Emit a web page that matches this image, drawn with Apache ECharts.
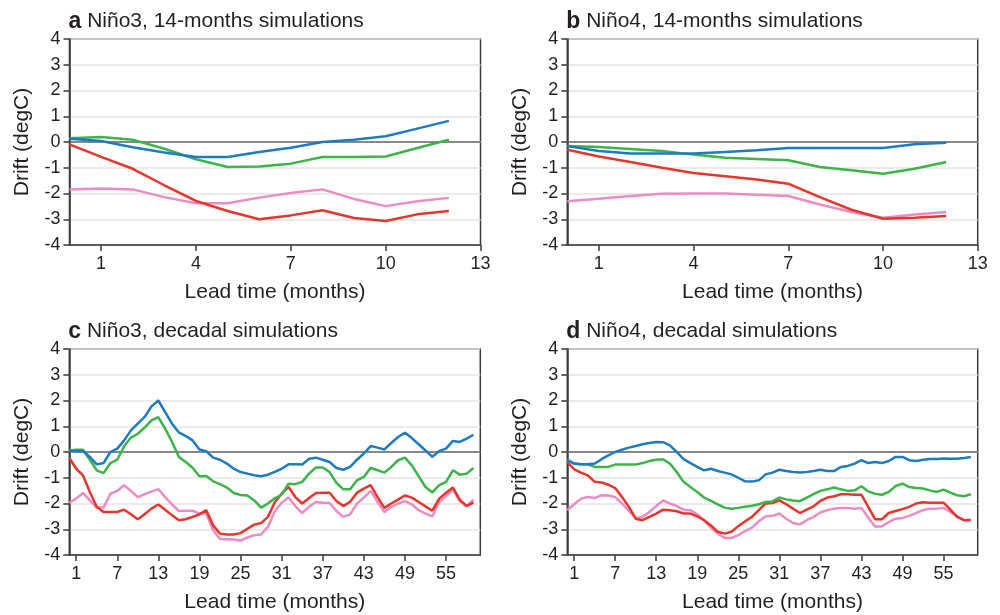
<!DOCTYPE html>
<html>
<head>
<meta charset="utf-8">
<script src="https://cdn.jsdelivr.net/npm/echarts@6/dist/echarts.min.js"></script>
<style>
html,body{margin:0;padding:0;background:#fff;}
#chart{width:1000px;height:615px;}
</style>
</head>
<body>
<div id="chart"></div>
<script>
// ---- data ----
const months14 = [0,1,2,3,4,5,6,7,8,9,10,11,12];
const monthsDec = [0,1,2,3,4,5,6,7,8,9,10,11,12,13,14,15,16,17,18,19,20,21,22,23,24,25,26,27,28,29,
  30,31,32,33,34,35,36,37,38,39,40,41,42,43,44,45,46,47,48,49,50,51,52,53,54,55,56,57,58,59];
const ticks14 = [1,4,7,10,13];
const ticksDec = [1,7,13,19,25,31,37,43,49,55];

const titles = [
  {tag:'a', text:'Niño3, 14-months simulations'},
  {tag:'b', text:'Niño4, 14-months simulations'},
  {tag:'c', text:'Niño3, decadal simulations'},
  {tag:'d', text:'Niño4, decadal simulations'}
];

const aBlue  = [0.13,0.04,-0.2,-0.41,-0.58,-0.58,-0.39,-0.22,0.0,0.09,0.22,0.52,0.82];
const aGreen = [0.15,0.19,0.09,-0.26,-0.67,-0.97,-0.95,-0.84,-0.58,-0.58,-0.56,-0.23,0.09];
const aRed   = [-0.09,-0.58,-1.04,-1.68,-2.29,-2.68,-3.0,-2.85,-2.65,-2.95,-3.07,-2.81,-2.68];
const aPink  = [-1.84,-1.81,-1.84,-2.14,-2.38,-2.38,-2.16,-1.98,-1.84,-2.21,-2.49,-2.3,-2.17];

const bBlue  = [-0.16,-0.35,-0.45,-0.45,-0.45,-0.39,-0.32,-0.23,-0.23,-0.23,-0.23,-0.09,-0.03];
const bGreen = [-0.16,-0.19,-0.27,-0.35,-0.49,-0.61,-0.66,-0.71,-0.97,-1.1,-1.23,-1.04,-0.78];
const bRed   = [-0.3,-0.56,-0.78,-1.0,-1.2,-1.33,-1.46,-1.62,-2.14,-2.63,-2.98,-2.94,-2.87];
const bPink  = [-2.3,-2.2,-2.1,-2.01,-2.0,-2.0,-2.05,-2.1,-2.43,-2.72,-2.94,-2.82,-2.72];

const cBlue = [0.06,0.04,0.04,-0.19,-0.48,-0.43,0.0,0.13,0.45,0.84,1.1,1.36,1.77,2.0,1.55,1.1,0.76,0.62,0.45,0.1,
  0.03,-0.22,-0.3,-0.45,-0.65,-0.78,-0.84,-0.9,-0.94,-0.88,-0.77,
  -0.65,-0.48,-0.48,-0.49,-0.26,-0.22,-0.3,-0.39,-0.62,-0.69,-0.58,-0.3,-0.06,0.23,0.17,0.1,0.35,0.58,0.75,
  0.54,0.3,0.06,-0.19,0.04,0.13,0.43,0.39,0.52,0.67];
const cGreen = [0.06,0.09,0.09,-0.3,-0.71,-0.82,-0.43,-0.3,0.22,0.56,0.71,0.95,1.23,1.35,0.91,0.39,-0.19,-0.39,-0.61,-0.94,
  -0.93,-1.14,-1.25,-1.38,-1.59,-1.67,-1.69,-1.88,-2.16,-2.0,-1.8,
  -1.66,-1.23,-1.25,-1.16,-0.84,-0.6,-0.6,-0.78,-1.2,-1.45,-1.45,-1.1,-0.97,-0.61,-0.71,-0.8,-0.58,-0.32,-0.22,
  -0.52,-0.94,-1.36,-1.57,-1.29,-1.16,-0.71,-0.88,-0.84,-0.62];
const cRed = [-0.22,-0.65,-0.91,-1.55,-2.13,-2.33,-2.33,-2.33,-2.24,-2.42,-2.61,-2.42,-2.2,-2.04,-2.24,-2.46,-2.65,-2.61,-2.52,-2.42,
  -2.26,-2.85,-3.17,-3.2,-3.2,-3.15,-2.98,-2.82,-2.76,-2.52,-1.95,
  -1.62,-1.36,-1.75,-2.0,-1.79,-1.59,-1.58,-1.58,-1.9,-2.1,-1.93,-1.58,-1.42,-1.29,-1.75,-2.17,-2.0,-1.85,-1.69,
  -1.77,-1.94,-2.11,-2.28,-1.81,-1.58,-1.38,-1.85,-2.1,-1.97];
const cPink = [-1.97,-1.81,-1.59,-1.88,-2.16,-2.16,-1.62,-1.51,-1.29,-1.51,-1.75,-1.64,-1.53,-1.44,-1.75,-2.04,-2.29,-2.28,-2.28,-2.39,
  -2.39,-3.04,-3.38,-3.39,-3.4,-3.44,-3.32,-3.23,-3.2,-2.91,-2.3,
  -1.97,-1.77,-2.1,-2.37,-2.13,-1.94,-1.97,-1.98,-2.29,-2.52,-2.42,-2.0,-1.77,-1.51,-1.94,-2.33,-2.13,-2.0,-1.91,
  -2.03,-2.26,-2.39,-2.5,-1.94,-1.71,-1.46,-1.91,-2.1,-1.85];

const dBlue = [-0.32,-0.45,-0.48,-0.48,-0.45,-0.28,-0.13,0.0,0.09,0.17,0.23,0.3,0.35,0.39,0.38,0.26,0.0,-0.28,-0.43,-0.58,
  -0.71,-0.65,-0.74,-0.8,-0.87,-1.0,-1.14,-1.15,-1.1,-0.87,-0.8,
  -0.69,-0.74,-0.78,-0.8,-0.78,-0.74,-0.69,-0.74,-0.74,-0.58,-0.54,-0.45,-0.32,-0.43,-0.39,-0.43,-0.35,-0.19,-0.19,
  -0.32,-0.35,-0.3,-0.27,-0.27,-0.25,-0.26,-0.26,-0.23,-0.19];
const dGreen = [-0.3,-0.45,-0.48,-0.48,-0.58,-0.58,-0.58,-0.49,-0.49,-0.49,-0.49,-0.43,-0.35,-0.3,-0.28,-0.45,-0.78,-1.16,-1.36,-1.55,
  -1.77,-1.9,-2.03,-2.16,-2.2,-2.17,-2.13,-2.09,-2.03,-1.94,-1.92,
  -1.77,-1.84,-1.88,-1.91,-1.77,-1.64,-1.51,-1.45,-1.38,-1.45,-1.51,-1.49,-1.33,-1.53,-1.62,-1.66,-1.55,-1.32,-1.23,
  -1.36,-1.4,-1.42,-1.49,-1.55,-1.46,-1.58,-1.68,-1.72,-1.64];
const dRed = [-0.39,-0.67,-0.8,-0.91,-1.16,-1.18,-1.27,-1.4,-1.75,-2.13,-2.59,-2.65,-2.52,-2.39,-2.24,-2.26,-2.3,-2.39,-2.39,-2.5,
  -2.65,-2.85,-3.1,-3.17,-3.1,-2.88,-2.69,-2.52,-2.26,-2.0,-1.98,
  -1.88,-2.03,-2.2,-2.37,-2.24,-2.11,-1.9,-1.77,-1.72,-1.64,-1.64,-1.66,-1.66,-2.13,-2.61,-2.61,-2.37,-2.29,-2.22,
  -2.13,-2.0,-1.95,-1.97,-1.97,-1.97,-2.24,-2.52,-2.65,-2.65];
const dPink = [-2.26,-2.03,-1.81,-1.75,-1.79,-1.68,-1.69,-1.75,-2.0,-2.29,-2.56,-2.52,-2.33,-2.1,-1.88,-2.0,-2.1,-2.24,-2.26,-2.42,
  -2.65,-2.94,-3.17,-3.34,-3.34,-3.23,-3.07,-2.94,-2.69,-2.5,-2.48,
  -2.39,-2.59,-2.76,-2.81,-2.65,-2.52,-2.35,-2.26,-2.2,-2.17,-2.17,-2.2,-2.17,-2.55,-2.89,-2.89,-2.72,-2.59,-2.56,
  -2.48,-2.37,-2.26,-2.2,-2.2,-2.17,-2.33,-2.5,-2.65,-2.63];

// ---- styling / layout ----
const FONT = 'Liberation Sans, Arial, Helvetica, sans-serif';
const TXT = '#231f20';
const AX = '#3a3a3a';
const COLORS = {blue:'#1f7bbf', green:'#3cb44a', red:'#e5352d', pink:'#ec8cc4'};

const grids = [
  {left:69.5, top:39, width:411, height:206},
  {left:567.3, top:39, width:410.4, height:206},
  {left:69.3, top:349, width:411, height:206},
  {left:567.3, top:349, width:410.4, height:206}
];
const panels = [
  {x:months14, max:13, ticks:ticks14, s:{pink:aPink, red:aRed, green:aGreen, blue:aBlue}},
  {x:months14, max:13, ticks:ticks14, s:{pink:bPink, red:bRed, green:bGreen, blue:bBlue}},
  {x:monthsDec, max:60, ticks:ticksDec, s:{pink:cPink, red:cRed, green:cGreen, blue:cBlue}},
  {x:monthsDec, max:60, ticks:ticksDec, s:{pink:dPink, red:dRed, green:dGreen, blue:dBlue}}
];

const option = {
  animation:false,
  backgroundColor:'#fff',
  textStyle:{fontFamily:FONT},
  title: titles.map((t,i)=>({
    text:'{b|'+t.tag+'} '+t.text,
    left:grids[i].left - 1,
    top:grids[i].top - 29,
    padding:0,
    textStyle:{fontFamily:FONT, fontSize:21, fontWeight:'normal', color:TXT,
      rich:{b:{fontFamily:FONT, fontSize:23, fontWeight:'bold', color:TXT}}}
  })),
  grid: grids.map(g=>Object.assign({show:true, borderColor:AX, borderWidth:1.5, backgroundColor:'transparent', containLabel:false}, g)),
  xAxis: panels.map((p,i)=>({
    type:'value', gridIndex:i, min:0, max:p.max, position:'bottom',
    name:'Lead time (months)', nameLocation:'middle', nameGap:37,
    nameTextStyle:{fontFamily:FONT, fontSize:21, color:TXT},
    axisLine:{show:true, onZero:false, lineStyle:{color:AX, width:1.5}},
    axisTick:{show:true, inside:false, length:6, customValues:p.ticks, lineStyle:{color:AX, width:1.5}},
    axisLabel:{fontFamily:FONT, fontSize:18, color:TXT, margin:10, customValues:p.ticks},
    splitLine:{show:false}
  })),
  yAxis: panels.map((p,i)=>({
    type:'value', gridIndex:i, min:-4, max:4, interval:1, position:'left',
    name:'Drift (degC)', nameLocation:'middle', nameGap:37,
    nameTextStyle:{fontFamily:FONT, fontSize:21, color:TXT},
    axisLine:{show:true, onZero:false, lineStyle:{color:AX, width:1.5}},
    axisTick:{show:true, inside:false, length:6, lineStyle:{color:AX, width:1.5}},
    axisLabel:{fontFamily:FONT, fontSize:18, color:TXT, margin:9},
    splitLine:{show:true, lineStyle:{color:'#e4e4e4', width:1.5}}
  })),
  series: []
};

panels.forEach((p,i)=>{
  ['pink','red','green','blue'].forEach((k,j)=>{
    const vals = p.s[k];
    const s = {
      type:'line', xAxisIndex:i, yAxisIndex:i,
      data: p.x.map((m,idx)=>[m, vals[idx]]),
      showSymbol:false, symbol:'none', smooth:false,
      lineStyle:{color:COLORS[k], width:2.5},
      itemStyle:{color:COLORS[k]},
      z:3+j
    };
    if (j===0) {
      s.markLine = {silent:true, symbol:'none', label:{show:false}, animation:false,
        lineStyle:{color:'#666', width:1.6, type:'solid'}, data:[{yAxis:0}]};
    }
    option.series.push(s);
  });
});

const chart = echarts.init(document.getElementById('chart'), null, {renderer:'canvas'});
chart.setOption(option);
</script>
</body>
</html>
